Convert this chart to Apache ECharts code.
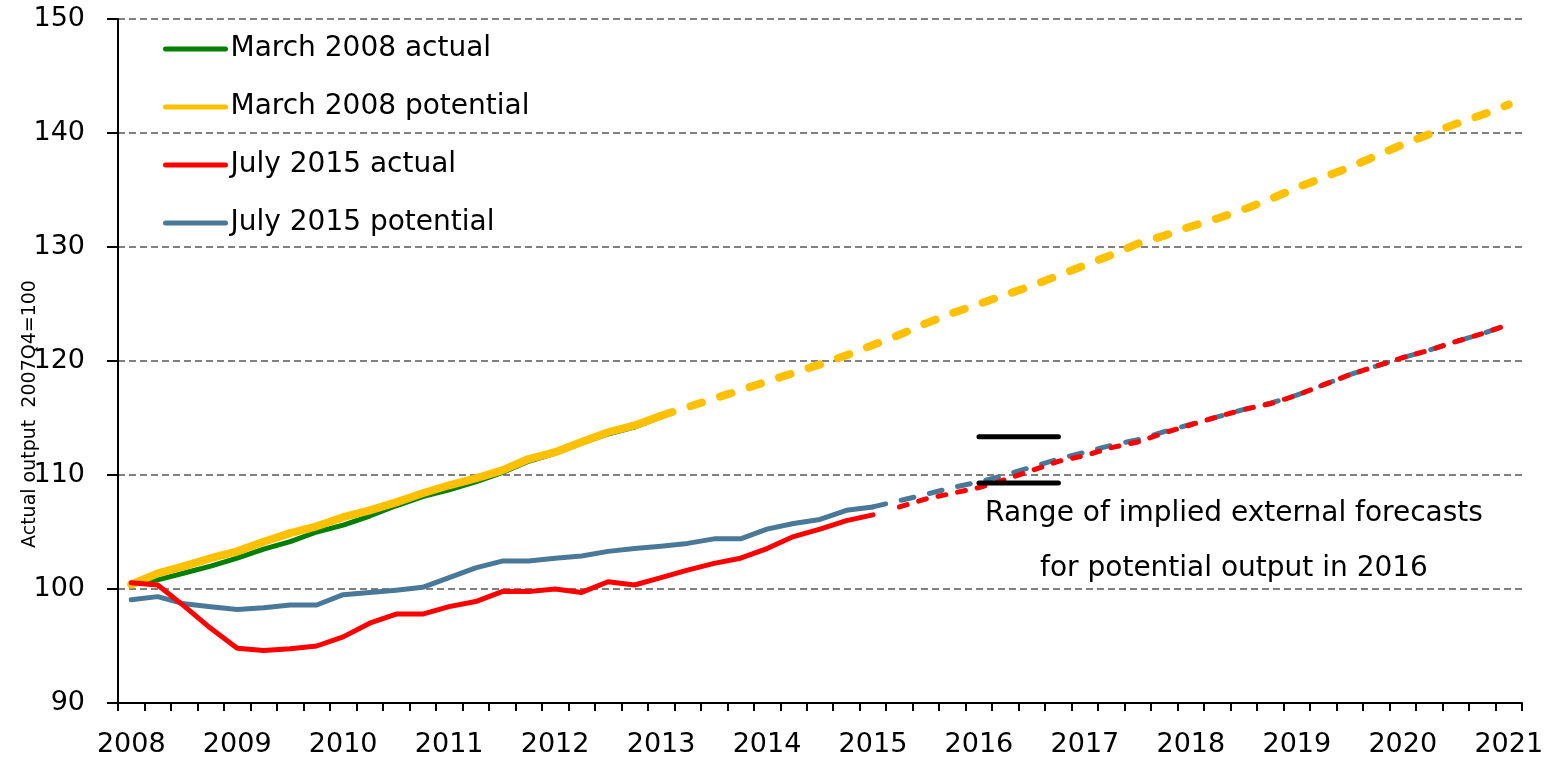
<!DOCTYPE html>
<html>
<head>
<meta charset="UTF-8">
<title>Actual and potential output</title>
<script src="https://cdn.jsdelivr.net/npm/echarts@6/dist/echarts.min.js"></script>
<style>
html,body{margin:0;padding:0;background:#fff;}
#chart{width:1555px;height:758px;}
</style>
</head>
<body>
<div id="chart"></div>
<script>
// quarters 2008Q1 .. 2021Q1
var quarters = [];
for (var yr = 2008; yr <= 2021; yr++) {
  for (var q = 1; q <= 4; q++) {
    if (yr === 2021 && q > 1) break;
    quarters.push(yr + 'Q' + q);
  }
}
var yTicks = [90, 100, 110, 120, 130, 140, 150];

// March 2008 forecast, actual output (2008Q1-2013Q1)
var mar08Actual = [100.4, 100.8, 101.4, 102.0, 102.7, 103.5, 104.15, 105.0, 105.6, 106.4, 107.3,
  108.1, 108.7, 109.4, 110.2, 111.2, 111.9, 112.8, 113.6, 114.2, 115.1];
// March 2008 potential output, solid part (2008Q1-2013Q1)
var mar08Potential = [100.4, 101.37, 102.0, 102.7, 103.3, 104.15, 104.9, 105.5, 106.3, 106.9, 107.6,
  108.4, 109.1, 109.7, 110.4, 111.4, 112.0, 112.9, 113.75, 114.35, 115.2];
// March 2008 potential output, dashed projection (2013Q1-2021Q1)
var mar08PotentialProj = [115.2, 115.95, 116.7, 117.45, 118.2, 118.95, 119.7, 120.5, 121.4, 122.3, 123.3,
  124.2, 125.0, 125.8, 126.6, 127.5, 128.4, 129.3, 130.3, 131.0, 131.8, 132.5, 133.3, 134.2, 135.2,
  136.1, 137.0, 138.0, 139.0, 139.9, 140.8, 141.6, 142.5];
// July 2015 actual output (2008Q1-2015Q1)
var jul15Actual = [100.55, 100.35, 98.5, 96.55, 94.8, 94.6, 94.75, 95.0, 95.8, 97.0, 97.8, 97.8,
  98.45, 98.9, 99.77, 99.77, 100.0, 99.7, 100.64, 100.35, 101.0, 101.66, 102.25, 102.7, 103.55,
  104.6, 105.25, 106.0, 106.5];
// July 2015 actual output forecast (2015Q2-2021Q1)
var jul15ActualProj = [107.2, 107.9, 108.4, 108.9, 109.6, 110.4, 111.2, 111.7, 112.4, 112.9, 113.7,
  114.4, 115.1, 115.75, 116.25, 117.0, 117.9, 118.8, 119.55, 120.3, 120.95, 121.7, 122.4, 123.2];
// July 2015 potential output (2008Q1-2015Q1)
var jul15Potential = [99.05, 99.33, 98.7, 98.45, 98.2, 98.35, 98.6, 98.6, 99.5, 99.7, 99.9, 100.15,
  101.0, 101.85, 102.45, 102.45, 102.7, 102.9, 103.3, 103.55, 103.75, 104.0, 104.4, 104.4, 105.25,
  105.75, 106.1, 106.9, 107.2];
// July 2015 potential output forecast (2015Q1-2021Q1)
var jul15PotentialProj = [107.2, 107.75, 108.3, 108.9, 109.4, 110.0, 110.7, 111.4, 112.0, 112.6, 113.1,
  113.8, 114.45, 115.1, 115.75, 116.3, 117.0, 117.9, 118.8, 119.55, 120.3, 120.95, 121.7, 122.4, 123.2];
// range of external forecasts for 2016 (2016Q1-2016Q4)
var rangeHigh = 113.35;
var rangeLow = 109.3;
var rangeQuarters = ['2016Q1', '2016Q2', '2016Q3', '2016Q4'];

function place(startQ, values) {
  var out = quarters.map(function () { return null; });
  var s = quarters.indexOf(startQ);
  for (var i = 0; i < values.length; i++) out[s + i] = values[i];
  return out;
}
function flat(value) {
  return place(rangeQuarters[0], rangeQuarters.map(function () { return value; }));
}

var FONT = 'DejaVu Sans';
var GREEN = '#008000', YELLOW = '#FFC000', RED = '#FF0000', BLUE = '#4A7898';

function lineSeries(name, data, color, width, dash) {
  return {
    name: name, type: 'line', data: data, symbol: 'none', connectNulls: false,
    lineStyle: { color: color, width: width, type: dash || 'solid', cap: dash ? 'round' : 'round', join: 'round' },
    itemStyle: { color: color },
    emphasis: { disabled: true }
  };
}

var chart = echarts.init(document.getElementById('chart'));
chart.setOption({
  animation: false,
  backgroundColor: '#fff',
  grid: { left: 118, right: 33, top: 19, bottom: 53 },
  legend: {
    data: ['March 2008 actual', 'March 2008 potential', 'July 2015 actual', 'July 2015 potential'],
    orient: 'vertical', left: 158, top: 29,
    itemWidth: 60, itemHeight: 14, itemGap: 28,
    itemStyle: { opacity: 0 },
    lineStyle: { width: 5 },
    textStyle: { fontFamily: FONT, fontSize: 28, color: '#000', lineHeight: 30 }
  },
  xAxis: {
    type: 'category', data: quarters, boundaryGap: true,
    axisLine: { lineStyle: { color: '#000', width: 2 } },
    axisTick: { show: true, interval: 0, length: 8, lineStyle: { color: '#000', width: 2 } },
    axisLabel: {
      interval: 3, margin: 28, color: '#000', fontFamily: FONT, fontSize: 27,
      formatter: function (v) { return v.slice(0, 4); }
    },
    splitLine: { show: false }
  },
  yAxis: {
    type: 'value', min: yTicks[0], max: yTicks[yTicks.length - 1], interval: 10,
    axisLine: { show: true, lineStyle: { color: '#000', width: 2 } },
    axisTick: { show: true, length: 11, lineStyle: { color: '#000', width: 2 } },
    axisLabel: { margin: 33, color: '#000', fontFamily: FONT, fontSize: 27 },
    splitLine: { show: true, lineStyle: { color: '#808080', width: 2, type: [7, 4] } }
  },
  graphic: [
    { type: 'text', x: 30, y: 414, rotation: Math.PI / 2,
      style: { text: 'Actual output  2007Q4=100', fontFamily: FONT, fontSize: 19, fill: '#000',
        textAlign: 'center', textVerticalAlign: 'middle' } },
    { type: 'text', x: 1234, y: 514,
      style: { text: 'Range of implied external forecasts', fontFamily: FONT, fontSize: 28, fill: '#000',
        textAlign: 'center', textVerticalAlign: 'middle' } },
    { type: 'text', x: 1234, y: 569,
      style: { text: 'for potential output in 2016', fontFamily: FONT, fontSize: 28, fill: '#000',
        textAlign: 'center', textVerticalAlign: 'middle' } }
  ],
  series: [
    lineSeries('March 2008 actual', place('2008Q1', mar08Actual), GREEN, 5),
    lineSeries('March 2008 potential', place('2008Q1', mar08Potential), YELLOW, 8),
    lineSeries('March 2008 potential projection', place('2013Q1', mar08PotentialProj), YELLOW, 8, [12, 19]),
    lineSeries('July 2015 potential', place('2008Q1', jul15Potential), BLUE, 5),
    lineSeries('July 2015 potential projection', place('2015Q1', jul15PotentialProj), BLUE, 5, [13, 16]),
    lineSeries('July 2015 actual', place('2008Q1', jul15Actual), RED, 5),
    lineSeries('July 2015 actual projection', place('2015Q2', jul15ActualProj), RED, 5, [8, 12]),
    lineSeries('Range high', flat(rangeHigh), '#000', 5),
    lineSeries('Range low', flat(rangeLow), '#000', 5)
  ]
});
</script>
</body>
</html>
